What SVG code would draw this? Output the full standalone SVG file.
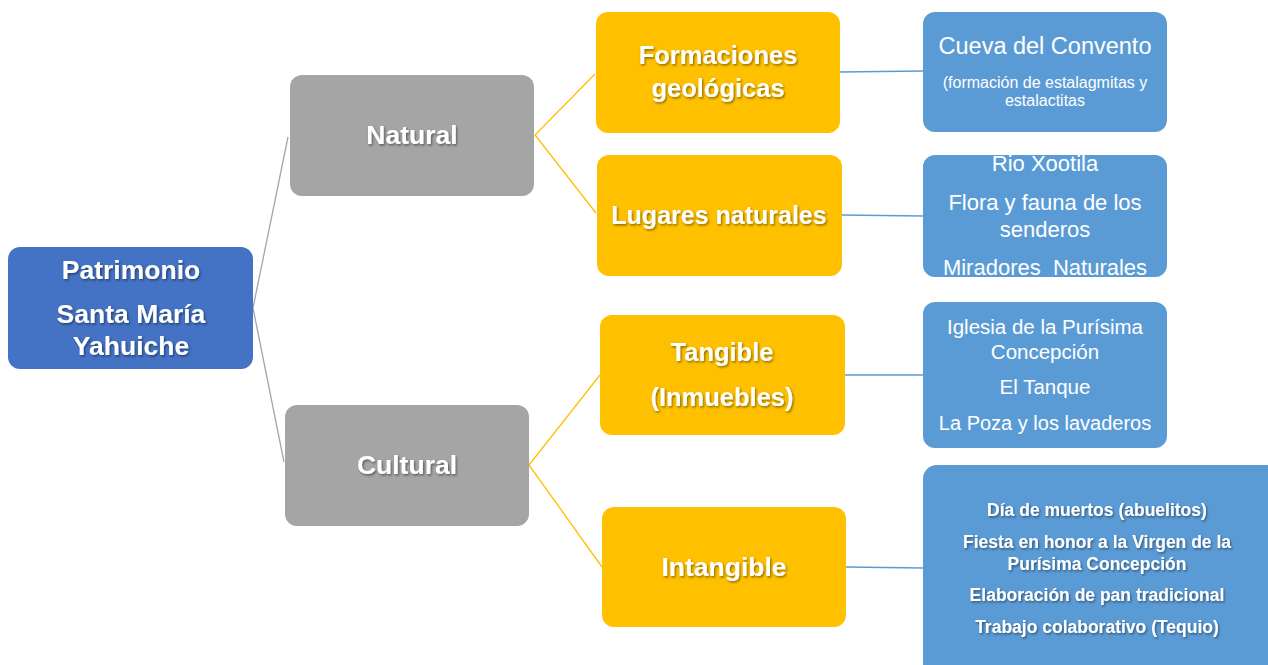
<svg xmlns="http://www.w3.org/2000/svg" width="1268" height="665" viewBox="0 0 1268 665">
<defs>
<filter id="sh" x="-10%" y="-30%" width="120%" height="160%">
<feDropShadow dx="1.2" dy="1.5" stdDeviation="0.8" flood-color="#000" flood-opacity="0.45"/>
</filter>
</defs>
<style>
text{font-family:"Liberation Sans",Arial,sans-serif;fill:#fff;text-anchor:middle}
.b{font-weight:bold;font-size:25.5px;filter:url(#sh)}
.s{font-size:17.5px}
.root{fill:#4472C4}
.gray{fill:#A5A5A5}
.yel{fill:#FFC000}
.blue{fill:#5B9BD5}
.cg{stroke:#A5A5A5;stroke-width:1.3;fill:none}
.cy{stroke:#FFC000;stroke-width:1.3;fill:none}
.cb{stroke:#5B9BD5;stroke-width:1.3;fill:none}
</style>
<rect width="1268" height="665" fill="#fff"/>
<g id="connectors">
<polyline class="cg" points="288,137 253,308 284,462"/>
<polyline class="cy" points="595,74 535,135 596,213"/>
<polyline class="cy" points="600,375 529,465 602,567"/>
<line class="cb" x1="840" y1="72" x2="923" y2="71"/>
<line class="cb" x1="842" y1="215" x2="923" y2="216"/>
<line class="cb" x1="845" y1="375" x2="923" y2="375"/>
<line class="cb" x1="846" y1="567" x2="923" y2="568"/>
</g>
<g id="root">
<rect class="root" x="8" y="247" width="245" height="122" rx="12"/>
<text class="b" x="131" y="279" style="font-size:26.5px">Patrimonio</text>
<text class="b" x="131" y="323" style="font-size:26.5px">Santa María</text>
<text class="b" x="131" y="355" style="font-size:26.5px">Yahuiche</text>
</g>
<g id="natural">
<rect class="gray" x="290" y="75" width="244" height="121" rx="12"/>
<text class="b" x="412" y="144" style="font-size:26.5px">Natural</text>
</g>
<g id="cultural">
<rect class="gray" x="285" y="405" width="244" height="121" rx="12"/>
<text class="b" x="407" y="474" style="font-size:26.5px">Cultural</text>
</g>
<g id="formaciones">
<rect class="yel" x="596" y="12" width="244" height="121" rx="12"/>
<text class="b" x="718" y="64">Formaciones</text>
<text class="b" x="718" y="97">geológicas</text>
</g>
<g id="lugares">
<rect class="yel" x="597" y="155" width="245" height="121" rx="12"/>
<text class="b" x="719" y="224" style="font-size:25px">Lugares naturales</text>
</g>
<g id="tangible">
<rect class="yel" x="600" y="315" width="245" height="120" rx="12"/>
<text class="b" x="722" y="361">Tangible</text>
<text class="b" x="722" y="406">(Inmuebles)</text>
</g>
<g id="intangible">
<rect class="yel" x="602" y="507" width="244" height="120" rx="12"/>
<text class="b" x="724" y="576" style="font-size:26.5px">Intangible</text>
</g>
<g id="cueva">
<rect class="blue" x="923" y="12" width="244" height="120" rx="12"/>
<text x="1045" y="54" font-size="23.5">Cueva del Convento</text>
<text x="1045" y="88" font-size="16">(formación de estalagmitas y</text>
<text x="1045" y="106" font-size="16">estalactitas</text>
</g>
<g id="lugares-lista">
<rect class="blue" x="923" y="155" width="244" height="122" rx="12"/>
<text x="1045" y="171" font-size="22">Rio Xootila</text>
<text x="1045" y="210" font-size="22">Flora y fauna de los</text>
<text x="1045" y="237" font-size="22">senderos</text>
<text x="1045" y="275" font-size="22" xml:space="preserve">Miradores  Naturales</text>
</g>
<g id="tangible-lista">
<rect class="blue" x="923" y="302" width="244" height="146" rx="12"/>
<text x="1045" y="334" font-size="20.5">Iglesia de la Purísima</text>
<text x="1045" y="359" font-size="20.5">Concepción</text>
<text x="1045" y="394" font-size="20.5">El Tanque</text>
<text x="1045" y="430" font-size="20">La Poza y los lavaderos</text>
</g>
<g id="intangible-lista">
<rect class="blue" x="923" y="465" width="360" height="220" rx="14"/>
<text class="b s" x="1097" y="516">Día de muertos (abuelitos)</text>
<text class="b s" x="1097" y="548">Fiesta en honor a la Virgen de la</text>
<text class="b s" x="1097" y="570">Purísima Concepción</text>
<text class="b s" x="1097" y="601">Elaboración de pan tradicional</text>
<text class="b s" x="1097" y="633">Trabajo colaborativo (Tequio)</text>
</g>
</svg>
